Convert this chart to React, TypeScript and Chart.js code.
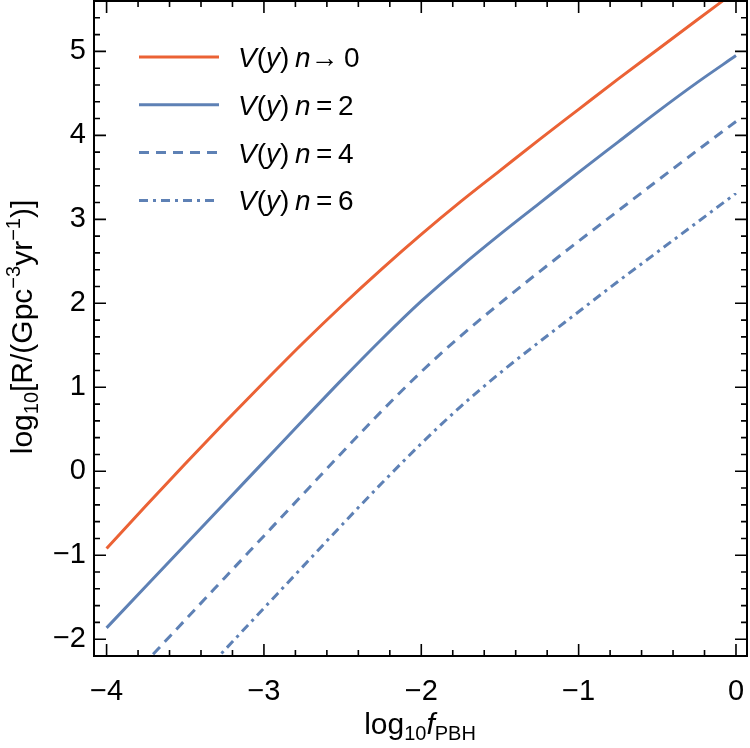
import React, { useEffect, useRef } from 'react';
import { Chart, registerables } from 'chart.js';

Chart.register(...registerables);

const FONT = '"Liberation Sans", Arial, Helvetica, sans-serif';
const RED = '#EB6235';
const BLUE = '#5E81B5';

// log10 f_PBH sample points
const logF = [-4, -3.75, -3.5, -3.25, -3, -2.75, -2.5, -2.25, -2, -1.75, -1.5, -1.25, -1, -0.75, -0.5, -0.25, 0];
// log10 R for each potential
const rateN0 = [-0.92, -0.41, 0.09, 0.58, 1.06, 1.53, 1.98, 2.41, 2.82, 3.21, 3.58, 3.95, 4.31, 4.67, 5.02, 5.37, 5.72];
const rateN2 = [-1.865, -1.37, -0.875, -0.38, 0.115, 0.61, 1.1, 1.575, 2.025, 2.435, 2.82, 3.19, 3.56, 3.92, 4.28, 4.625, 4.95];
const rateN4 = [-2.77, -2.27, -1.77, -1.27, -0.77, -0.27, 0.23, 0.72, 1.185, 1.61, 2.0, 2.375, 2.74, 3.1, 3.46, 3.815, 4.165];
const rateN6 = [-3.63, -3.13, -2.63, -2.13, -1.63, -1.13, -0.63, -0.14, 0.33, 0.77, 1.17, 1.54, 1.9, 2.26, 2.61, 2.96, 3.31];

const xTicks = [-4, -3, -2, -1, 0];
const yTicks = [-2, -1, 0, 1, 2, 3, 4, 5];
const nLabels = ['\u2192\u20090', '\u2009=\u20092', '\u2009=\u20094', '\u2009=\u20096'];

const fmt = (v: number) => (v < 0 ? '\u2212' + Math.abs(v) : String(v));

type Seg = { t: string; size: number; italic?: boolean; dy?: number };

function segFont(s: Seg) {
  return `${s.italic ? 'italic ' : ''}${s.size}px ${FONT}`;
}

function drawRich(ctx: CanvasRenderingContext2D, segs: Seg[], x: number, y: number, align: 'left' | 'center') {
  let total = 0;
  const widths = segs.map((s) => {
    ctx.font = segFont(s);
    const w = ctx.measureText(s.t).width;
    total += w;
    return w;
  });
  let cx = align === 'center' ? x - total / 2 : x;
  ctx.textAlign = 'left';
  segs.forEach((s, i) => {
    ctx.font = segFont(s);
    ctx.fillText(s.t, cx, y + (s.dy || 0));
    cx += widths[i];
  });
}

const framePlugin = {
  id: 'frameTicks',
  afterDatasetsDraw(chart: any) {
    const { ctx, chartArea: a, scales } = chart;
    const x = scales.x;
    const y = scales.y;
    ctx.save();
    ctx.strokeStyle = '#000';
    ctx.lineWidth = 2;
    ctx.strokeRect(a.left, a.top, a.right - a.left, a.bottom - a.top);
    ctx.lineWidth = 1.6;
    const step = 0.2;
    const majorLen = 12;
    const minorLen = 6;
    ctx.beginPath();
    for (let k = Math.ceil(x.min / step - 1e-9); k <= Math.floor(x.max / step + 1e-9); k++) {
      const v = k * step;
      const major = Math.abs(v - Math.round(v)) < 1e-6;
      const len = major ? majorLen : minorLen;
      const px = x.getPixelForValue(v);
      ctx.moveTo(px, a.bottom);
      ctx.lineTo(px, a.bottom - len);
      ctx.moveTo(px, a.top);
      ctx.lineTo(px, a.top + len);
    }
    for (let k = Math.ceil(y.min / step - 1e-9); k <= Math.floor(y.max / step + 1e-9); k++) {
      const v = k * step;
      const major = Math.abs(v - Math.round(v)) < 1e-6;
      const len = major ? majorLen : minorLen;
      const py = y.getPixelForValue(v);
      ctx.moveTo(a.left, py);
      ctx.lineTo(a.left + len, py);
      ctx.moveTo(a.right, py);
      ctx.lineTo(a.right - len, py);
    }
    ctx.stroke();
    ctx.restore();
  },
  afterDraw(chart: any) {
    const { ctx } = chart;
    ctx.save();
    ctx.fillStyle = '#000';
    ctx.textBaseline = 'alphabetic';
    // legend
    const ds = chart.data.datasets;
    const lx0 = 139;
    const lx1 = 219;
    const ly0 = 57;
    const lgap = 47.8;
    ds.forEach((d: any, i: number) => {
      const ly = ly0 + i * lgap;
      ctx.save();
      ctx.strokeStyle = d.borderColor;
      ctx.lineWidth = d.borderWidth;
      ctx.setLineDash(d.borderDash || []);
      ctx.beginPath();
      ctx.moveTo(lx0, ly);
      ctx.lineTo(lx1, ly);
      ctx.stroke();
      ctx.restore();
      drawRich(
        ctx,
        [
          { t: 'V', size: 28, italic: true },
          { t: '(', size: 28 },
          { t: 'y', size: 28, italic: true },
          { t: ')', size: 28 },
          { t: '\u2009', size: 28 },
          { t: 'n', size: 28, italic: true },
          { t: nLabels[i], size: 28 },
        ],
        238,
        ly + 10,
        'left'
      );
    });
    // x title
    drawRich(
      ctx,
      [
        { t: 'log', size: 30 },
        { t: '10', size: 20, dy: 6 },
        { t: 'f', size: 30, italic: true },
        { t: 'PBH', size: 20, dy: 6 },
      ],
      420,
      734,
      'center'
    );
    // y title
    ctx.translate(32, 327);
    ctx.rotate(-Math.PI / 2);
    drawRich(
      ctx,
      [
        { t: 'log', size: 30 },
        { t: '10', size: 20, dy: 6 },
        { t: '[R/(Gpc', size: 30 },
        { t: '\u22123', size: 20, dy: -12 },
        { t: 'yr', size: 30 },
        { t: '\u22121', size: 20, dy: -12 },
        { t: ')]', size: 30 },
      ],
      0,
      0,
      'center'
    );
    ctx.restore();
  },
};

const noPad = (s: any) => {
  s.paddingLeft = 0;
  s.paddingRight = 0;
  s.paddingTop = 0;
  s.paddingBottom = 0;
};

export default function App() {
  const ref = useRef<HTMLCanvasElement | null>(null);
  useEffect(() => {
    document.body.style.margin = '0';
    const canvas = ref.current;
    if (!canvas) return;
    const mk = (vals: number[]) => logF.map((x, i) => ({ x, y: vals[i] }));
    const base = { pointRadius: 0, borderWidth: 3, cubicInterpolationMode: 'monotone', clip: 0, fill: false };
    const chart = new Chart(canvas, {
      type: 'line',
      data: {
        datasets: [
          { ...base, label: 'n→0', data: mk(rateN0), borderColor: RED, borderDash: [] },
          { ...base, label: 'n=2', data: mk(rateN2), borderColor: BLUE, borderDash: [] },
          { ...base, label: 'n=4', data: mk(rateN4), borderColor: BLUE, borderDash: [10, 7] },
          { ...base, label: 'n=6', data: mk(rateN6), borderColor: BLUE, borderDash: [9, 5, 3, 5] },
        ] as any,
      },
      options: {
        animation: false,
        responsive: false,
        devicePixelRatio: 1,
        layout: { padding: { top: 1, right: 3, left: 0, bottom: 0 } },
        plugins: { legend: { display: false }, tooltip: { enabled: false } },
        scales: {
          x: {
            type: 'linear',
            min: -4.08,
            max: 0.07,
            grid: { display: false, drawTicks: false },
            border: { display: false },
            ticks: {
              font: { family: FONT, size: 29 },
              color: '#000',
              padding: 19,
              autoSkip: false,
              maxRotation: 0,
              callback: (v: any) => fmt(Number(v)),
            },
            afterBuildTicks: (s: any) => {
              s.ticks = xTicks.map((v) => ({ value: v }));
            },
            afterFit: (s: any) => {
              s.height = 92;
              noPad(s);
            },
          },
          y: {
            type: 'linear',
            min: -2.2,
            max: 5.6,
            grid: { display: false, drawTicks: false },
            border: { display: false },
            ticks: {
              font: { family: FONT, size: 29 },
              color: '#000',
              padding: 8,
              autoSkip: false,
              callback: (v: any) => fmt(Number(v)),
            },
            afterBuildTicks: (s: any) => {
              s.ticks = yTicks.map((v) => ({ value: v }));
            },
            afterFit: (s: any) => {
              s.width = 94;
              noPad(s);
            },
          },
        },
      } as any,
      plugins: [framePlugin],
    });
    return () => chart.destroy();
  }, []);
  return (
    <div style={{ position: 'relative', width: 750, height: 748 }}>
      <canvas ref={ref} width={750} height={748} style={{ width: 750, height: 748, display: 'block' }} />
    </div>
  );
}
